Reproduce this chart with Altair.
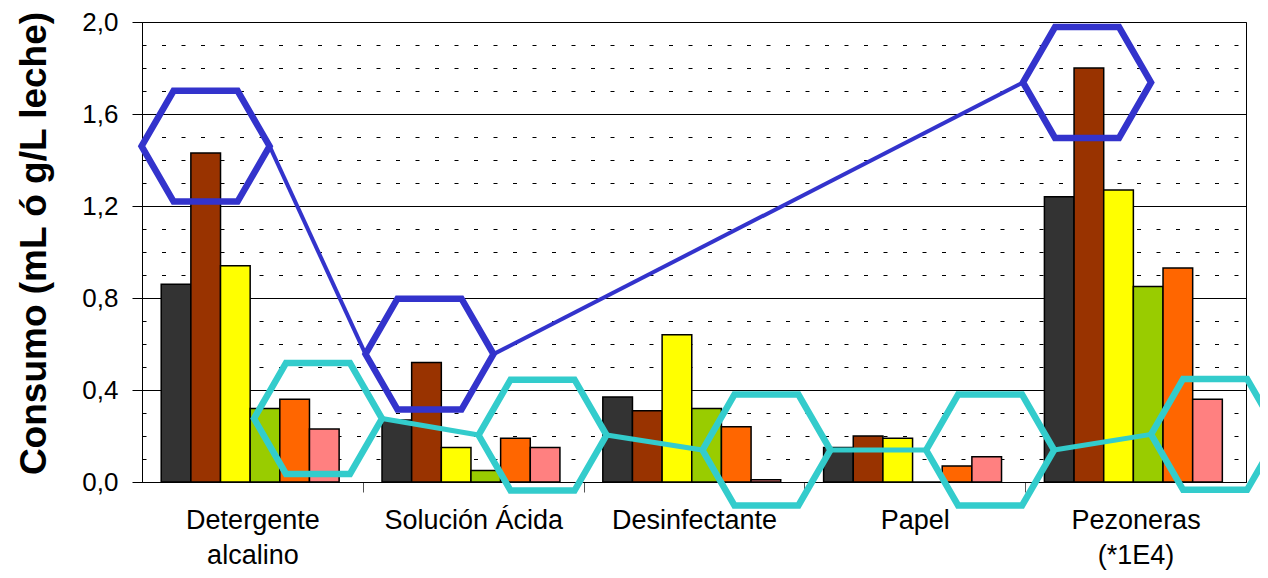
import json
import altair as alt
import pandas as pd

# ---------------- data ----------------
categories = ["Detergente\nalcalino", "Solución Ácida", "Desinfectante", "Papel", "Pezoneras\n(*1E4)"]
series = ["Serie 1", "Serie 2", "Serie 3", "Serie 4", "Serie 5", "Serie 6"]
colors = ["#333333", "#993300", "#FFFF00", "#99CC00", "#FF6600", "#FF8080"]

s1 = [0.86, 0.27, 0.37, 0.15, 1.24]
s2 = [1.43, 0.52, 0.31, 0.20, 1.80]
s3 = [0.94, 0.15, 0.64, 0.19, 1.27]
s4 = [0.32, 0.05, 0.32, 0.00, 0.85]
s5 = [0.36, 0.19, 0.24, 0.07, 0.93]
s6 = [0.23, 0.15, 0.01, 0.11, 0.36]
values = [s1, s2, s3, s4, s5, s6]

# annotation hexagons: centre position (in category units) and value
blue_x = [0.288, 1.302, 4.280]
blue_y = [1.46, 0.556, 1.737]
cyan_x = [0.797, 1.814, 2.828, 3.841, 4.860]
cyan_y = [0.276, 0.204, 0.139, 0.139, 0.207]

y_ticks = [round(k * 0.1, 1) for k in range(21)]
x_ticks = [k * 0.5 for k in range(11)]

# ---------------- layout constants ----------------
W, H = 1104, 460
GROUP_OFF = 0.087
BAR_W = 0.1343
HEX_R_PX = 64
HEX_R = HEX_R_PX / (W / len(categories))
HEX_PATH = "M -1 0 L -0.5 -0.866 L 0.5 -0.866 L 1 0 L 0.5 0.866 L -0.5 0.866 Z"
FONT = "Liberation Sans"

rows = []
for j, (name, vals) in enumerate(zip(series, values)):
    for i, v in enumerate(vals):
        x0 = i + GROUP_OFF + j * BAR_W
        rows.append({"cat": i, "series": name, "x0": x0, "x1": x0 + BAR_W, "value": v, "base": 0.0})
bars_df = pd.DataFrame(rows)

blue_df = pd.DataFrame({"x": blue_x, "y": blue_y})
cyan_df = pd.DataFrame({"x": cyan_x, "y": cyan_y})


def segments(xs, ys):
    out = []
    for k in range(len(xs) - 1):
        out.append({"x": xs[k] + HEX_R, "y": ys[k], "x2": xs[k + 1] - HEX_R, "y2": ys[k + 1]})
    return pd.DataFrame(out)


blue_seg = segments(blue_x, blue_y)
cyan_seg = segments(cyan_x, cyan_y)

labels_js = json.dumps([c.split("\n") for c in categories], ensure_ascii=False)

x_scale = alt.Scale(domain=[0, len(categories)], nice=False, zero=False)
y_scale = alt.Scale(domain=[0, 2], nice=False)

x_axis = alt.Axis(
    values=x_ticks,
    title=None,
    grid=False,
    labelExpr=f"(datum.value % 1) > 0.25 ? {labels_js}[floor(datum.value)] : ''",
    labelFont=FONT,
    labelFontSize=27,
    labelColor="black",
    labelLineHeight=35,
    labelPadding=25,
    labelOverlap=False,
    labelFlush=False,
    labelBound=False,
    tickSize={"condition": {"test": "datum.value % 1 == 0 && datum.value > 0 && datum.value < 5", "value": 10}, "value": 0},
    tickColor="#555555",
    domainColor="black",
)

y_axis = alt.Axis(
    values=y_ticks,
    title="Consumo (mL ó g/L leche)",
    titleFont=FONT,
    titleFontSize=37,
    titleFontWeight="bold",
    titleColor="black",
    titleAngle=270,
    titleX=-108,
    titleY=221,
    titleAlign="center",
    titleBaseline="middle",
    labelExpr="round(datum.value * 10) % 4 == 0 ? replace(format(datum.value, '.1f'), '.', ',') : ''",
    labelFont=FONT,
    labelFontSize=26,
    labelColor="black",
    labelPadding=14,
    labelOverlap=False,
    tickSize={"condition": {"test": "round(datum.value * 10) % 4 == 0", "value": 10}, "value": 0},
    tickColor="black",
    domainColor="black",
    grid=True,
    gridColor="black",
    gridOpacity=1,
    gridWidth=1,
    gridDash={"condition": {"test": "round(datum.value * 10) % 4 != 0", "value": [4, 15.5]}, "value": []},
)

bars = alt.Chart(bars_df).mark_rect(stroke="black", strokeWidth=1.5).encode(
    x=alt.X("x0:Q", scale=x_scale, axis=x_axis),
    x2="x1:Q",
    y=alt.Y("value:Q", scale=y_scale, axis=y_axis),
    y2="base:Q",
    color=alt.Color("series:N", scale=alt.Scale(domain=series, range=colors), legend=None),
)


def seg_layer(df, color, width):
    return alt.Chart(df).mark_rule(color=color, strokeWidth=width).encode(
        x=alt.X("x:Q", scale=x_scale, axis=x_axis),
        y=alt.Y("y:Q", scale=y_scale, axis=y_axis),
        x2="x2:Q",
        y2="y2:Q",
    )


def hex_layer(df, color):
    return alt.Chart(df).mark_point(
        shape=HEX_PATH, size=4 * HEX_R_PX ** 2, filled=False, stroke=color,
        strokeWidth=6.5, opacity=1, strokeJoin="miter",
    ).encode(
        x=alt.X("x:Q", scale=x_scale, axis=x_axis),
        y=alt.Y("y:Q", scale=y_scale, axis=y_axis),
    )


chart = alt.layer(
    bars,
    seg_layer(blue_seg, "#3333CC", 4),
    seg_layer(cyan_seg, "#33CCCC", 5),
    hex_layer(blue_df, "#3333CC"),
    hex_layer(cyan_df, "#33CCCC"),
).properties(
    width=W,
    height=H,
    padding={"left": 134, "top": 14, "right": 14, "bottom": 88},
    autosize=alt.AutoSizeParams(type="none"),
    background="white",
).configure(
    font=FONT,
    view=alt.ViewConfig(stroke="black", strokeWidth=1),
)

chart.save("out.html", embed_options={"renderer": "svg", "actions": False})
